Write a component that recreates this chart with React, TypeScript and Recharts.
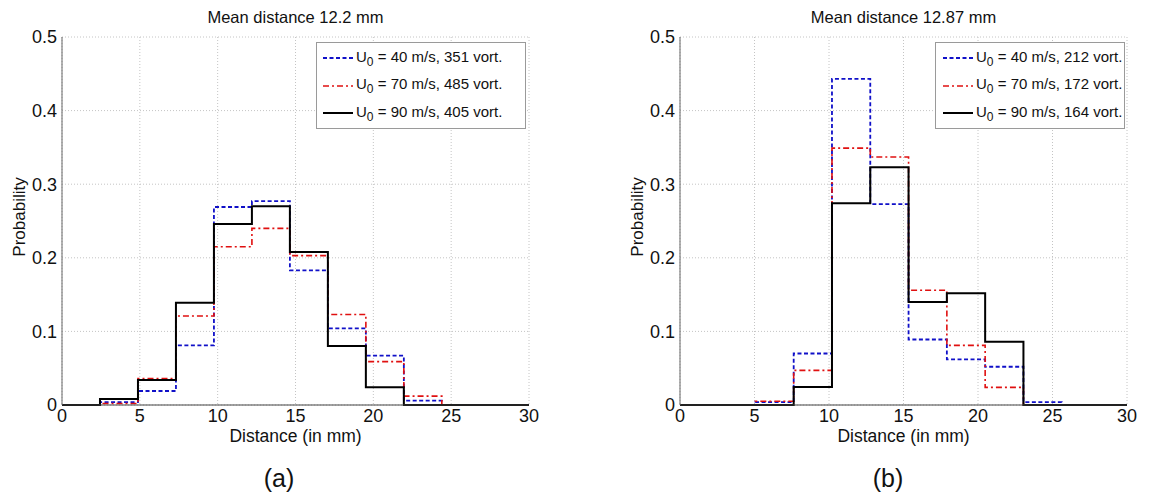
import { LineChart, Line, XAxis, YAxis, CartesianGrid } from 'recharts';

// bin edges (mm) and probabilities
const leftEdges = [0, 2.44, 4.88, 7.32, 9.76, 12.2, 14.64, 17.08, 19.52, 21.96, 24.4, 30];
const leftU40 = [0, 0.004, 0.019, 0.081, 0.269, 0.277, 0.183, 0.104, 0.067, 0.006, 0, 0];
const leftU70 = [0, 0.002, 0.036, 0.121, 0.215, 0.24, 0.203, 0.123, 0.059, 0.012, 0, 0];
const leftU90 = [0, 0.008, 0.034, 0.139, 0.246, 0.27, 0.208, 0.08, 0.024, 0, 0, 0];

const rightEdges = [0, 5.06, 7.63, 10.2, 12.77, 15.34, 17.91, 20.48, 23.05, 25.62, 30];
const rightU40 = [0, 0.004, 0.07, 0.443, 0.273, 0.089, 0.062, 0.052, 0.004, 0, 0];
const rightU70 = [0, 0.005, 0.047, 0.349, 0.337, 0.156, 0.081, 0.024, 0, 0, 0];
const rightU90 = [0, 0, 0.0245, 0.274, 0.323, 0.14, 0.152, 0.086, 0, 0, 0];

const leftLegend = ['40 m/s, 351 vort.', '70 m/s, 485 vort.', '90 m/s, 405 vort.'];
const rightLegend = ['40 m/s, 212 vort.', '70 m/s, 172 vort.', '90 m/s, 164 vort.'];

const xTicks = [0, 5, 10, 15, 20, 25, 30];
const yTicks = [0, 0.1, 0.2, 0.3, 0.4, 0.5];

const FONT = '"Liberation Sans", Arial, sans-serif';

const styles = [
  { stroke: '#1010c8', dash: '4 2.5', width: 1.8 },
  { stroke: '#e01010', dash: '6 3 2 3', width: 1.6 },
  { stroke: '#000000', dash: undefined, width: 2 },
];

function toSteps(edges: number[], values: number[]) {
  return edges.map((x, i) => ({ x, y: values[i] }));
}

interface PanelProps {
  plotLeft: number;
  plotRight: number;
  title: string;
  tag: string;
  tagX: number;
  ylabelX: number;
  legendLeft: number;
  legendRight: number;
  legendPad: number;
  legend: string[];
  edges: number[];
  series: number[][];
}

const TOP = 37;
const BOTTOM = 405;

function Panel(p: PanelProps) {
  const plotW = p.plotRight - p.plotLeft;
  const chartLeft = p.plotLeft - 50;
  const chartW = plotW + 60;
  const chartH = 440;
  const midX = (p.plotLeft + p.plotRight) / 2;

  const text = (content: any, x: number, y: number, size = 17.5, extra: any = {}) => (
    <div
      style={{
        position: 'absolute',
        left: x,
        top: y,
        transform: 'translate(-50%, -50%)',
        fontSize: size,
        fontFamily: FONT,
        color: '#111',
        whiteSpace: 'nowrap',
        lineHeight: 1,
        ...extra,
      }}
    >
      {content}
    </div>
  );

  return (
    <>
      <div style={{ position: 'absolute', left: chartLeft, top: 0 }}>
        <LineChart width={chartW} height={chartH} margin={{ top: TOP, right: 10, bottom: chartH - BOTTOM - 30, left: 10 }}>
          <CartesianGrid stroke="#c4c4c4" strokeDasharray="1 2" />
          <XAxis
            dataKey="x"
            type="number"
            domain={[0, 30]}
            ticks={xTicks}
            allowDataOverflow
            height={30}
            tickLine={false}
            tickSize={4}
            tickMargin={0}
            stroke="#444"
            tick={{ fill: '#111', fontSize: 18, fontFamily: FONT }}
          />
          <XAxis xAxisId="top" orientation="top" type="number" domain={[0, 30]} height={0} tick={false} tickLine={false} stroke="#444" />
          <YAxis
            type="number"
            domain={[0, 0.5]}
            ticks={yTicks}
            width={40}
            tickLine={false}
            tickSize={5}
            tickMargin={0}
            tickFormatter={(v) => String(v)}
            stroke="#666"
            tick={{ fill: '#111', fontSize: 18, fontFamily: FONT }}
          />
          <YAxis yAxisId="right" orientation="right" domain={[0, 0.5]} width={0} tick={false} tickLine={false} stroke="#444" />
          {p.series.map((vals, i) => (
            <Line
              key={i}
              data={toSteps(p.edges, vals)}
              dataKey="y"
              type="stepAfter"
              stroke={styles[i].stroke}
              strokeWidth={styles[i].width}
              strokeDasharray={styles[i].dash}
              dot={false}
              activeDot={false}
              isAnimationActive={false}
            />
          ))}
        </LineChart>
      </div>

      {text(p.title, midX, 17, 16.5)}
      {text('Distance (in mm)', midX, 437)}
      {text(p.tag, p.tagX, 478, 25)}
      {text('Probability', p.ylabelX, 217, 17, { transform: 'translate(-50%, -50%) rotate(-90deg)' })}

      <div
        style={{
          position: 'absolute',
          left: p.legendLeft,
          top: 42,
          width: p.legendRight - p.legendLeft,
          height: 87,
          border: '1px solid #9a9a9a',
          background: '#fff',
          boxSizing: 'border-box',
          fontFamily: FONT,
          fontSize: 15,
          color: '#111',
        }}
      >
        {p.legend.map((label, i) => (
          <div key={i} style={{ position: 'absolute', left: p.legendPad, top: 3 + i * 27.5, height: 24, display: 'flex', alignItems: 'center', whiteSpace: 'nowrap' }}>
            <svg width={32} height={6} style={{ marginRight: 2 }}>
              <line x1={1} y1={3} x2={31} y2={3} stroke={styles[i].stroke} strokeWidth={styles[i].width} strokeDasharray={styles[i].dash} />
            </svg>
            <span>
              U<sub style={{ fontSize: 12 }}>0</sub> = {label}
            </span>
          </div>
        ))}
      </div>
    </>
  );
}

export default function App() {
  return (
    <div style={{ position: 'absolute', left: 0, top: 0, width: 1164, height: 496, background: '#fff' }}>
      <Panel
        plotLeft={62}
        plotRight={529}
        title="Mean distance 12.2 mm"
        tag="(a)"
        tagX={279}
        ylabelX={19}
        legendLeft={316}
        legendRight={526}
        legendPad={5}
        legend={leftLegend}
        edges={leftEdges}
        series={[leftU40, leftU70, leftU90]}
      />
      <Panel
        plotLeft={680}
        plotRight={1127}
        title="Mean distance 12.87 mm"
        tag="(b)"
        tagX={888}
        ylabelX={637}
        legendLeft={935}
        legendRight={1125}
        legendPad={6}
        legend={rightLegend}
        edges={rightEdges}
        series={[rightU40, rightU70, rightU90]}
      />
    </div>
  );
}
